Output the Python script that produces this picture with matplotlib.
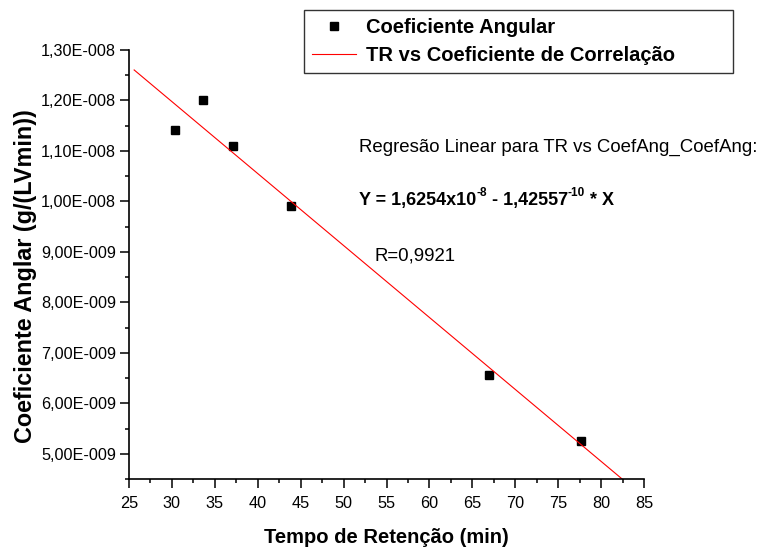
# Coeficiente angular vs tempo de retencao, with linear fit.

import matplotlib
matplotlib.use('Agg')
import matplotlib.pyplot as plt
from matplotlib.ticker import MultipleLocator, FuncFormatter
import numpy as np

plt.rcParams['font.family'] = ['Liberation Sans', 'DejaVu Sans']

# data
tempo = [30.4, 33.6, 37.1, 43.9, 66.9, 77.7]
coef_ang = [1.141e-8, 1.200e-8, 1.110e-8, 0.991e-8, 6.56e-9, 5.26e-9]

# fit reported on the chart
intercept = 1.6254e-8
slope = -1.42557e-10
fit_x = [25.6, 82.6]

def sci_comma(v, pos):
    m, e = ('%.2E' % v).split('E')
    e = int(e)
    return '%sE%s%03d' % (m.replace('.', ','), '-' if e < 0 else '+', abs(e))

fig = plt.figure(figsize=(7.66, 5.5), dpi=100)
ax = fig.add_axes([129/766, 1 - 479/550, (644 - 129)/766, (479 - 50)/550])

ax.plot(tempo, coef_ang, 's', color='black', markersize=6, label='Coeficiente Angular')
fx = np.array(fit_x)
ax.plot(fx, intercept + slope*fx, color='red', lw=0.8,
        label='TR vs Coeficiente de Correla\u00e7\u00e3o')

ax.set_xlim(25, 85)
ax.set_ylim(4.5e-9, 1.3e-8)
ax.xaxis.set_major_locator(MultipleLocator(5))
ax.xaxis.set_minor_locator(MultipleLocator(2.5))
ax.yaxis.set_major_locator(MultipleLocator(1e-9))
ax.yaxis.set_minor_locator(MultipleLocator(5e-10))
ax.yaxis.set_major_formatter(FuncFormatter(sci_comma))
ax.yaxis.get_offset_text().set_visible(False)
ax.xaxis.get_offset_text().set_visible(False)

for s in ['top', 'right']:
    ax.spines[s].set_visible(False)
for s in ['left', 'bottom']:
    ax.spines[s].set_linewidth(1.2)
ax.tick_params(which='major', direction='out', length=6.5, width=1.1, labelsize=11.7, pad=3)
ax.tick_params(which='minor', direction='out', length=3, width=1.1)
ax.tick_params(axis='x', which='major', pad=6)

ax.set_xlabel('Tempo de Reten\u00e7\u00e3o (min)', fontsize=14.5, fontweight='bold', labelpad=12)
ax.set_ylabel('Coeficiente Anglar (g/(LVmin))', fontsize=16.8, fontweight='bold', labelpad=2.5)
ax.yaxis.label.set_y(0.473)

leg = fig.legend(loc='upper left', bbox_to_anchor=(304/766, 1 - 10/550, (733 - 304)/766, 0.0),
                 mode='expand', prop={'weight': 'bold', 'size': 14.5},
                 frameon=True, fancybox=False, edgecolor='black', handlelength=2.2,
                 handletextpad=0.5, borderpad=0.4, labelspacing=0.45, borderaxespad=0)
leg.get_frame().set_linewidth(1.0)

fig.text(359/766, 1 - 147/550, 'Regres\u00e3o Linear para TR vs CoefAng_CoefAng:',
         fontsize=13.4, va='center')

# equation built from pieces so the superscripts sit like the original
eq_size = 13
sup_size = 8.5
t1 = fig.text(359/766, 1 - 209/550, 'Y = 1,6254x10', fontsize=eq_size,
              fontweight='bold', va='bottom')
t2 = ax.annotate('-8', xy=(1, 0.6), xycoords=t1, fontsize=sup_size,
                 fontweight='bold', va='bottom', ha='left')
t3 = ax.annotate(' - 1,42557', xy=(1, 0), xycoords=(t2, t1), fontsize=eq_size,
                 fontweight='bold', va='bottom', ha='left')
t4 = ax.annotate('-10', xy=(1, 0.6), xycoords=t3, fontsize=sup_size,
                 fontweight='bold', va='bottom', ha='left')
t5 = ax.annotate(' * X', xy=(1, 0), xycoords=(t4, t1), fontsize=eq_size,
                 fontweight='bold', va='bottom', ha='left')

fig.text(374/766, 1 - 256/550, 'R=0,9921', fontsize=13.4, va='center')

fig.savefig('out.png', dpi=100)
